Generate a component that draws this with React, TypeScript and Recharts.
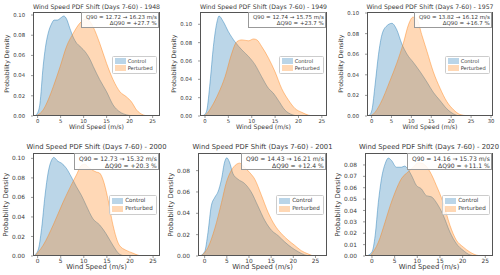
import React from 'react';
import { AreaChart, Area, XAxis, YAxis } from 'recharts';

const BLUE = '#1f77b4';
const ORANGE = '#ff7f0e';
const FONT = '"DejaVu Sans", sans-serif';
const TEXT = '#3a3a3a';

// KDE curves as [wind speed (m/s), density] pairs
const control1948 = [[-1.0, 0], [-0.5, 0.0005], [0, 0.003], [0.5, 0.012], [1.2, 0.049], [1.7, 0.068], [2.3, 0.082], [3, 0.091], [3.6, 0.095], [4.3, 0.095], [5, 0.097], [5.7, 0.099], [6.3, 0.096], [7, 0.087], [7.75, 0.078], [8.5, 0.072], [9.2, 0.069], [10.6, 0.062], [11.4, 0.056], [12.1, 0.049], [13.5, 0.036], [15, 0.024], [16.4, 0.011], [17.9, 0.004], [19.3, 0.0012], [21, 0]];
const perturbed1948 = [[-0.6, 0], [0, 0.001], [1.2, 0.006], [2.3, 0.016], [3.4, 0.029], [4.9, 0.049], [6.3, 0.069], [7.75, 0.082], [9.2, 0.092], [10.6, 0.096], [11.3, 0.094], [12.1, 0.088], [13.5, 0.072], [15, 0.052], [16.4, 0.036], [17.9, 0.024], [19.3, 0.019], [20.4, 0.014], [21.5, 0.006], [23, 0.001], [24, 0]];

const control1949 = [[-0.7, 0], [0, 0.002], [0.4, 0.0065], [1.07, 0.036], [1.8, 0.076], [2.5, 0.101], [3, 0.109], [3.9, 0.103], [5, 0.092], [6.4, 0.081], [7.9, 0.072], [9.3, 0.065], [10.7, 0.056], [12.1, 0.043], [13.6, 0.03], [14.6, 0.025], [15.7, 0.017], [17.1, 0.0065], [18.6, 0.0015], [20, 0]];
const perturbed1949 = [[-0.3, 0], [0.5, 0.003], [1.4, 0.01], [2.9, 0.025], [4.3, 0.043], [5.7, 0.068], [6.8, 0.081], [7.9, 0.083], [9.3, 0.082], [10.4, 0.084], [11.1, 0.083], [12.1, 0.076], [13.6, 0.063], [15, 0.048], [16.4, 0.03], [17.9, 0.017], [19.3, 0.008], [20.7, 0.004], [22.1, 0.001], [23.5, 0]];

const control1957 = [[-1.2, 0], [-0.5, 0.001], [0.1, 0.006], [0.9, 0.031], [1.75, 0.06], [2.6, 0.079], [3.8, 0.0875], [5.1, 0.09], [6.3, 0.084], [7.6, 0.07], [8.9, 0.06], [10.5, 0.052], [12.2, 0.043], [13.9, 0.033], [15.5, 0.023], [17.2, 0.015], [18.9, 0.007], [20.6, 0.002], [22, 0]];
const perturbed1957 = [[-0.5, 0], [0.5, 0.002], [2.2, 0.012], [4.7, 0.035], [6.3, 0.051], [8, 0.071], [9.3, 0.089], [10.4, 0.096], [11.4, 0.094], [12.6, 0.079], [13.9, 0.063], [15.5, 0.043], [17.2, 0.027], [18.9, 0.014], [20.6, 0.006], [22.2, 0.0015], [23.9, 0.0003], [25, 0]];

const control2000 = [[-0.9, 0], [0.1, 0.006], [0.86, 0.028], [1.6, 0.062], [2.3, 0.086], [3, 0.098], [3.5, 0.101], [4.4, 0.097], [5.2, 0.095], [6.2, 0.09], [7.3, 0.081], [8.4, 0.071], [9.5, 0.062], [10.5, 0.052], [12, 0.038], [13.4, 0.032], [14.8, 0.023], [16.3, 0.011], [17.7, 0.002], [19, 0]];
const perturbed2000 = [[-0.6, 0], [1.2, 0.011], [3.4, 0.032], [5.5, 0.055], [6.9, 0.069], [8.4, 0.083], [9.5, 0.093], [10.2, 0.094], [11.2, 0.09], [12.7, 0.086], [13.4, 0.085], [14.1, 0.079], [15.2, 0.059], [16.3, 0.032], [17.7, 0.011], [19.1, 0.006], [20.6, 0.003], [22, 0.0005], [23, 0]];

const control2001 = [[-1.1, 0], [0, 0.004], [0.75, 0.022], [1.5, 0.047], [2.3, 0.055], [3, 0.06], [3.8, 0.072], [4.5, 0.088], [5, 0.092], [5.6, 0.088], [6.4, 0.077], [7.5, 0.072], [9, 0.068], [10.5, 0.06], [12, 0.047], [13.6, 0.033], [15.1, 0.024], [16.6, 0.019], [18.1, 0.013], [19.6, 0.008], [21.1, 0.004], [22.6, 0.001], [24, 0]];
const perturbed2001 = [[-0.75, 0], [0.75, 0.008], [2.3, 0.026], [3.8, 0.05], [4.9, 0.069], [6, 0.08], [7.2, 0.086], [7.9, 0.087], [9, 0.083], [10.2, 0.078], [11.3, 0.072], [12.8, 0.057], [14.3, 0.041], [15.8, 0.029], [17.3, 0.021], [18.8, 0.015], [20.3, 0.01], [21.8, 0.005], [23.3, 0.002], [24.5, 0]];

const control2020 = [[-1.2, 0], [0, 0.0035], [0.7, 0.018], [1.4, 0.047], [2.1, 0.068], [2.9, 0.081], [3.6, 0.086], [4.3, 0.084], [5.4, 0.078], [6.5, 0.078], [7.2, 0.079], [7.6, 0.078], [8.7, 0.071], [9.8, 0.062], [10.9, 0.059], [12, 0.053], [13.1, 0.052], [14.2, 0.047], [15.7, 0.036], [17.2, 0.021], [18.6, 0.011], [20.1, 0.005], [21.6, 0.001], [23, 0]];
const perturbed2020 = [[-0.4, 0], [1.4, 0.012], [2.9, 0.03], [4, 0.044], [5.1, 0.056], [6.5, 0.068], [8, 0.074], [9.1, 0.078], [10.2, 0.082], [11.3, 0.081], [12.8, 0.074], [14.2, 0.062], [15.7, 0.047], [17.2, 0.027], [18.6, 0.014], [20.1, 0.008], [21.6, 0.0035], [23, 0.0008], [24.5, 0]];

const years = ['1948', '1949', '1957', '2000', '2001', '2020'];
const controlSeries = [control1948, control1949, control1957, control2000, control2001, control2020];
const perturbedSeries = [perturbed1948, perturbed1949, perturbed1957, perturbed2000, perturbed2001, perturbed2020];
const q90Control = ['12.72', '12.74', '13.82', '12.73', '14.43', '14.16'];
const q90Perturbed = ['16.23', '15.75', '16.12', '15.32', '16.21', '15.73'];
const q90Change = ['27.7', '23.7', '16.7', '20.3', '12.4', '11.1'];

const xTicks25 = [0, 5, 10, 15, 20, 25];
const xTicks30 = [0, 5, 10, 15, 20, 25, 30];
const yTicksTo10 = [0, 0.02, 0.04, 0.06, 0.08, 0.1];
const yTicksTo08 = [0, 0.02, 0.04, 0.06, 0.08];
const yTicksStep01 = [0, 0.01, 0.02, 0.03, 0.04, 0.05, 0.06, 0.07, 0.08];

// plot-area boxes of the 2x3 grid (page pixels) and per-axis ranges
const frames = [
  { left: 33, top: 12, w: 127, h: 104, xDomain: [-1.0, 26.6], yMax: 0.103, xTicks: xTicks25, yTicks: yTicksTo10, s: 1 },
  { left: 200, top: 12, w: 127, h: 104, xDomain: [-1.07, 26.1], yMax: 0.1134, xTicks: xTicks25, yTicks: yTicksTo10, s: 1 },
  { left: 367, top: 12, w: 126, h: 104, xDomain: [-1.15, 30.5], yMax: 0.101, xTicks: xTicks30, yTicks: yTicksTo10, s: 1 },
  { left: 33, top: 153, w: 127, h: 103, xDomain: [-1.0, 26.5], yMax: 0.1055, xTicks: xTicks25, yTicks: yTicksTo10, s: 1.1 },
  { left: 198, top: 153, w: 129, h: 103, xDomain: [-1.5, 27.6], yMax: 0.0965, xTicks: xTicks25, yTicks: yTicksTo08, s: 1.1 },
  { left: 365, top: 153, w: 128, h: 103, xDomain: [-1.54, 26.7], yMax: 0.0905, xTicks: xTicks25, yTicks: yTicksStep01, s: 1.1 },
];

const PAD_L = 34;
const PAD_T = 4;
const PAD_R = 4;
const PAD_B = 20;

function mergeSeries(ctrl: number[][], pert: number[][]) {
  const map = new Map<number, { x: number; control?: number; perturbed?: number }>();
  ctrl.forEach(([x, y]) => map.set(x, { ...(map.get(x) || { x }), control: y }));
  pert.forEach(([x, y]) => map.set(x, { ...(map.get(x) || { x }), perturbed: y }));
  return Array.from(map.values()).sort((a, b) => a.x - b.x);
}

const Swatch = ({ color }: { color: string }) => (
  <span
    style={{
      display: 'inline-block',
      width: 9,
      height: 4,
      marginRight: 3,
      background: color,
      opacity: 0.3,
      outline: `0.6px solid ${color}`,
    }}
  />
);

function Panel({ i }: { i: number }) {
  const f = frames[i];
  const W = f.w + PAD_L + PAD_R;
  const H = f.h + PAD_T + PAD_B;
  const rows = mergeSeries(controlSeries[i], perturbedSeries[i]);
  const tickStyle = { fontSize: 5.3 * f.s, fill: TEXT, fontFamily: FONT };
  const tickLine = { stroke: '#555', strokeWidth: 0.6 };

  return (
    <>
      <div style={{ position: 'absolute', left: f.left - PAD_L, top: f.top - PAD_T, width: W, height: H }}>
        <AreaChart width={W} height={H} data={rows} margin={{ top: PAD_T, right: PAD_R, left: 0, bottom: 0 }}>
          <XAxis
            type="number"
            dataKey="x"
            domain={f.xDomain}
            ticks={f.xTicks}
            allowDataOverflow
            interval={0}
            height={PAD_B}
            axisLine={false}
            tickLine={tickLine}
            tickSize={2}
            tickMargin={1}
            tick={tickStyle}
          />
          <YAxis
            type="number"
            domain={[0, f.yMax]}
            ticks={f.yTicks}
            allowDataOverflow
            interval={0}
            width={PAD_L}
            axisLine={false}
            tickLine={tickLine}
            tickSize={2}
            tickMargin={6}
            tick={tickStyle}
            tickFormatter={(v: number) => v.toFixed(2)}
          />
          <Area
            type="monotone"
            dataKey="control"
            connectNulls
            stroke={BLUE}
            strokeOpacity={0.55}
            strokeWidth={0.8}
            fill={BLUE}
            fillOpacity={0.3}
            dot={false}
            activeDot={false}
            isAnimationActive={false}
          />
          <Area
            type="monotone"
            dataKey="perturbed"
            connectNulls
            stroke={ORANGE}
            strokeOpacity={0.55}
            strokeWidth={0.8}
            fill={ORANGE}
            fillOpacity={0.3}
            dot={false}
            activeDot={false}
            isAnimationActive={false}
          />
        </AreaChart>
      </div>

      {/* axes frame */}
      <div
        style={{
          position: 'absolute',
          left: f.left,
          top: f.top,
          width: f.w,
          height: f.h,
          boxSizing: 'border-box',
          border: '0.7px solid #555',
        }}
      />

      {/* title */}
      <div
        style={{
          position: 'absolute',
          left: f.left - 20,
          width: f.w + 40,
          top: f.top - 9.5 * f.s,
          textAlign: 'center',
          fontSize: 6.2 * f.s,
          lineHeight: `${7.5 * f.s}px`,
          color: TEXT,
          whiteSpace: 'nowrap',
        }}
      >
        Wind Speed PDF Shift (Days 7-60) - {years[i]}
      </div>

      {/* axis labels */}
      <div
        style={{
          position: 'absolute',
          left: f.left,
          width: f.w,
          top: f.top + f.h + 7,
          textAlign: 'center',
          fontSize: 6.2 * f.s,
          lineHeight: `${7.5 * f.s}px`,
          color: TEXT,
          whiteSpace: 'nowrap',
        }}
      >
        Wind Speed (m/s)
      </div>
      <div
        style={{
          position: 'absolute',
          left: f.left - 26 - 50,
          top: f.top + f.h / 2 - 3.75,
          width: 100,
          textAlign: 'center',
          fontSize: 6.2 * f.s,
          lineHeight: '7.5px',
          color: TEXT,
          whiteSpace: 'nowrap',
          transform: 'rotate(-90deg)',
        }}
      >
        Probability Density
      </div>

      {/* Q90 annotation */}
      <div
        style={{
          position: 'absolute',
          right: 500 - (f.left + f.w) + 0.7,
          top: f.top + 0.3,
          padding: '0.5px 1.5px 0.5px 4px',
          border: '0.7px solid #999',
          background: 'rgba(255,255,255,0.85)',
          textAlign: 'right',
          fontSize: 5.5 * f.s,
          lineHeight: `${6.4 * f.s}px`,
          color: TEXT,
          whiteSpace: 'nowrap',
        }}
      >
        <div>Q90 = {q90Control[i]} → {q90Perturbed[i]} m/s</div>
        <div>ΔQ90 = +{q90Change[i]} %</div>
      </div>

      {/* legend */}
      <div
        style={{
          position: 'absolute',
          right: 500 - (f.left + f.w) + 3.3,
          top: f.top + f.h / 2 - 8.5 * f.s,
          padding: '1px 3px 1px 3px',
          border: '0.6px solid #ccc',
          borderRadius: 1.5,
          background: 'rgba(255,255,255,0.8)',
          fontSize: 5.1 * f.s,
          lineHeight: `${7 * f.s}px`,
          color: TEXT,
          whiteSpace: 'nowrap',
        }}
      >
        <div style={{ display: 'flex', alignItems: 'center' }}>
          <Swatch color={BLUE} />
          Control
        </div>
        <div style={{ display: 'flex', alignItems: 'center' }}>
          <Swatch color={ORANGE} />
          Perturbed
        </div>
      </div>
    </>
  );
}

export default function App() {
  return (
    <div
      style={{
        position: 'absolute',
        left: 0,
        top: 0,
        width: 500,
        height: 275,
        background: '#fff',
        fontFamily: FONT,
        overflow: 'hidden',
      }}
    >
      {frames.map((_, i) => (
        <Panel key={i} i={i} />
      ))}
    </div>
  );
}
